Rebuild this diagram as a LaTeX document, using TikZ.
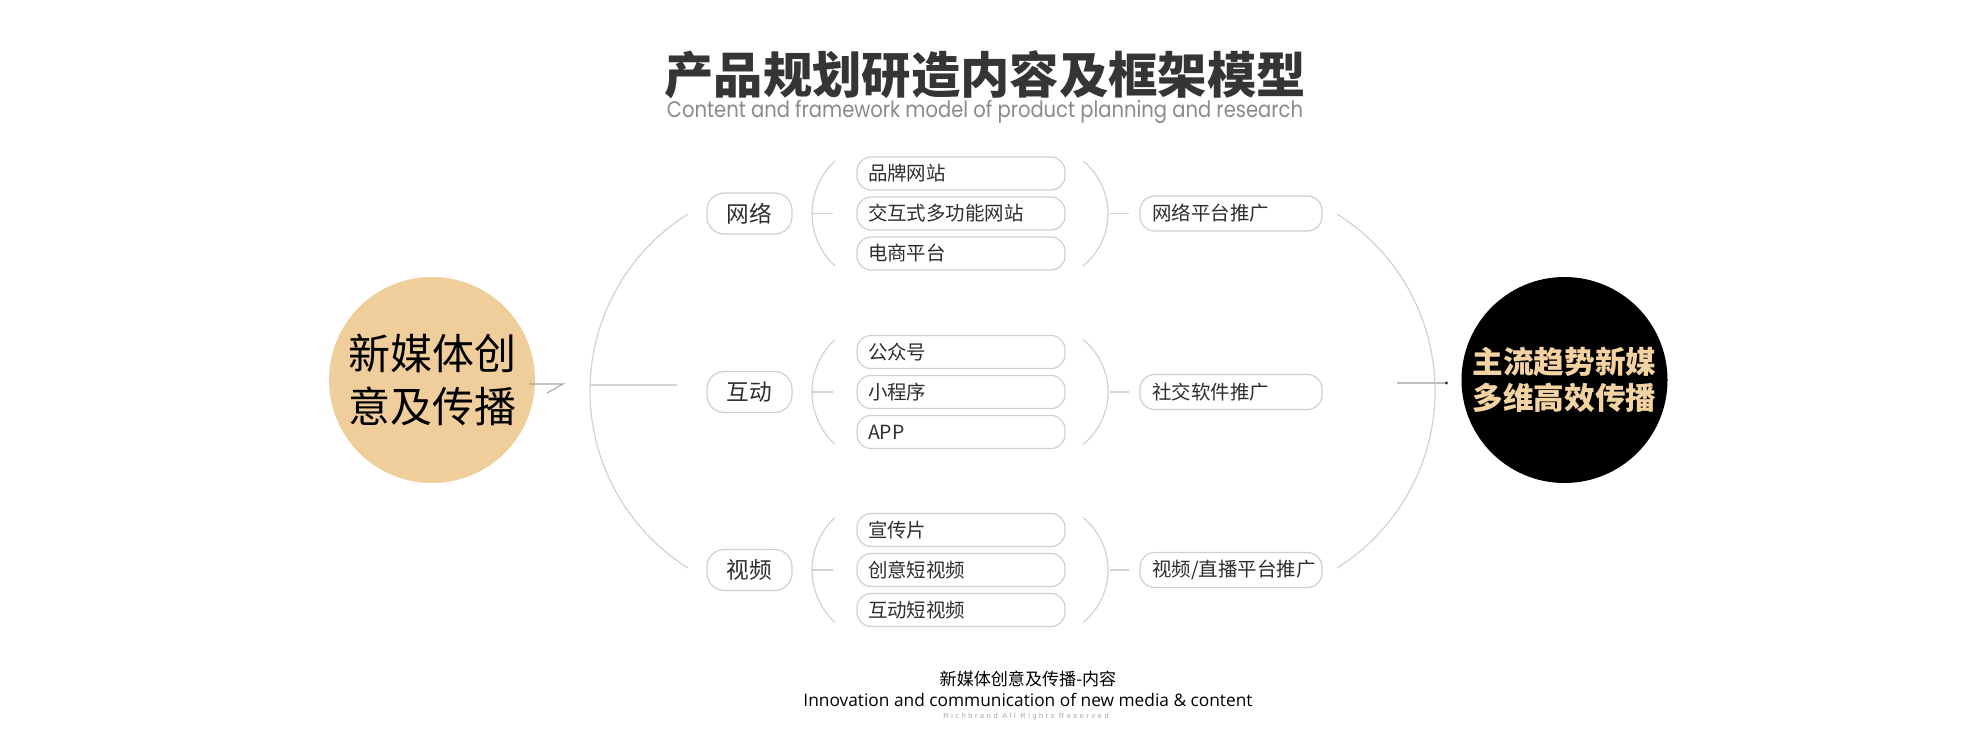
\documentclass[tikz,border=0pt]{standalone}
\usepackage{fontspec}
\setmainfont{Noto Sans CJK SC}
\newfontfamily\subfont{Poppins}
\newfontfamily\enfont{Open Sans}
\newfontfamily\rightsfont[LetterSpace=35]{Liberation Sans}
\usetikzlibrary{arrows.meta}
\definecolor{tan}{HTML}{EFCE9B}
\definecolor{tantext}{HTML}{F3D3A2}
\definecolor{linegray}{HTML}{D2D2D2}
\definecolor{boxgray}{HTML}{D0D0D0}
\definecolor{textdark}{HTML}{2E2E2E}
\definecolor{titlegray}{HTML}{353535}
\definecolor{subgray}{HTML}{8A8A8A}
\tikzset{
  bracket/.style={draw=linegray, line width=0.9pt},
  leaf/.style={draw=boxgray, line width=0.9pt, rounded corners=10.5pt, minimum height=24.75pt,
    text width=139.5pt, inner xsep=8.25pt, inner ysep=0pt, align=left, text=textdark,
    font=\fontsize{14.6pt}{16pt}\selectfont},
  midbox/.style={draw=boxgray, line width=0.9pt, rounded corners=13pt, minimum width=63.75pt,
    minimum height=30.75pt, inner sep=0pt, text=textdark, font=\fontsize{17pt}{19pt}\selectfont},
  outbox/.style={draw=boxgray, line width=0.9pt, rounded corners=11pt, minimum height=26.25pt,
    text width=118pt, inner xsep=9.25pt, inner ysep=0pt, align=left, text=textdark,
    font=\fontsize{14.6pt}{16pt}\selectfont},
  bigcircle/.style={circle, minimum size=154.5pt, inner sep=0pt, align=center}
}
\begin{document}
\begin{tikzpicture}[x=0.75pt,y=-0.75pt]
\useasboundingbox (0,0) rectangle (1980,735);
\fill[white] (0,0) rectangle (1980,735);

% title
\node[text=titlegray, font=\fontsize{37pt}{37pt}\selectfont\bfseries] (title) at (985,75) {产品规划研造内容及框架模型};
\node[text=subgray] (subtitle) at (985,112) {\scalebox{1}[1.15]{\resizebox{477pt}{!}{\subfont Content and framework model of product planning and research}}};

% circles
\node[bigcircle, fill=tan, text=black, font=\fontsize{31.5pt}{40pt}\selectfont] (src) at (432,380) {\raisebox{-4pt}{新媒体创}\\\raisebox{-4pt}{意及传播}};
\node[bigcircle, fill=black, text=tantext, font=\fontsize{23pt}{27pt}\selectfont\bfseries] (dst) at (1564.5,380) {主流趋势新媒\\多维高效传播};

% left connector
\coordinate (c1) at (529,384);
\coordinate (c2) at (563,384);
\coordinate (c3) at (547,393);
\draw[draw=gray!70, line width=0.8pt] (c1) -- (c2) -- (c3);

% big left arc
\draw[bracket] (798.8,391) ++(237.96:208.8) arc[start angle=237.96, end angle=122.04, radius=208.8];
\coordinate (bl1) at (590,385);
\coordinate (bl2) at (677,385);
\draw[bracket] (bl1) -- (bl2);

% big right arc
\draw[bracket] (1226.2,391) ++(-57.96:208.8) arc[start angle=-57.96, end angle=57.96, radius=208.8];
\coordinate (br1) at (1397,383);
\coordinate (br2) at (1448,383);
\draw[draw=linegray!90!black, line width=0.8pt, -{Circle[length=2.2pt, color=black!80]}] (br1) -- (br2);

% groups
\foreach \c/\m/\o/\a/\b/\d/\n in {
  213.5/网络/网络平台推广/品牌网站/交互式多功能网站/电商平台/g1,
  392/互动/社交软件推广/公众号/小程序/APP/g2,
  570/视频/{\mbox{视频/直播平台推广}}/宣传片/创意短视频/互动短视频/g3}{
  \node[midbox] (\n m) at (749.5,\c) {\m};
  \node[leaf] (\n a) at (961,\c-40) {\a};
  \node[leaf] (\n b) at (961,\c) {\b};
  \node[leaf] (\n d) at (961,\c+40) {\d};
  \node[outbox] (\n o) at (1231,\c) {\o};
  \draw[bracket] (883.4,\c) ++(227.3:71.4) arc[start angle=227.3, end angle=132.7, radius=71.4];
  \draw[bracket] (812,\c) -- (833,\c);
  \draw[bracket] (1040.4,\c) ++(-50.9:67.6) arc[start angle=-50.9, end angle=50.9, radius=67.6];
  \draw[bracket] (1110,\c) -- (1129,\c);
}

% bottom
\node[text=black, font=\fontsize{12.8pt}{14pt}\selectfont] (b1) at (1028,679) {新媒体创意及传播-内容};
\node[text=black] (b2) at (1028,700) {\resizebox{336.75pt}{!}{\enfont Innovation and communication of new media \& content}};
\node[text=gray!70] (b3) at (1026,717) {\resizebox{124pt}{!}{\rightsfont Richbrand All Rights Reserved}};
\end{tikzpicture}
\end{document}
